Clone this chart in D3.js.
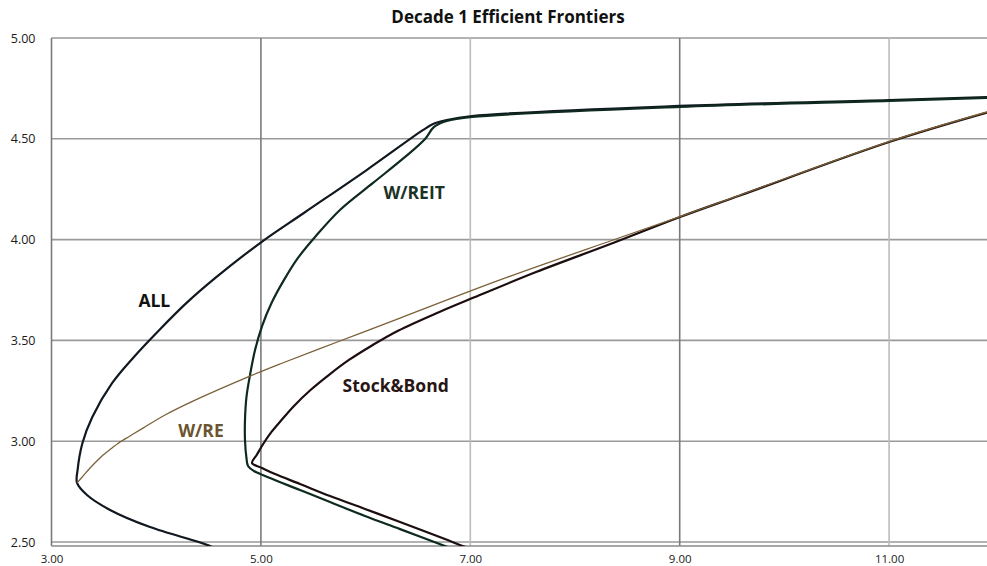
<!DOCTYPE html>
<html>
<head>
<meta charset="utf-8">
<script src="https://cdn.jsdelivr.net/npm/d3@7"></script>
<style>
  html, body { margin: 0; padding: 0; background: #fff; }
</style>
</head>
<body>
<div id="frontier_chart"></div>
<script>
// tick values
const xTicks = [3, 5, 7, 9, 11];
const yTicks = [2.5, 3.0, 3.5, 4.0, 4.5, 5.0];

// [risk, return] pairs
const allPoints = [
    [4.60, 2.455], [4.514, 2.48], [3.941, 2.574], [3.559, 2.659], [3.339, 2.733], [3.244, 2.793],
    [3.249, 2.857], [3.295, 2.99], [3.39, 3.12], [3.58, 3.289], [3.787, 3.418],
    [4.03, 3.552], [4.29, 3.686], [4.565, 3.81], [5.005, 3.988], [5.41, 4.132],
    [6.01, 4.345], [6.55, 4.544], [6.644, 4.573], [6.775, 4.593], [7.016, 4.613],
    [9.0, 4.663], [11.0, 4.692], [11.94, 4.707]
];
const wreitPoints = [
    [6.949, 2.445], [6.758, 2.48], [6.329, 2.564], [5.994, 2.629], [5.66, 2.698], [5.373, 2.758],
    [5.087, 2.817], [4.934, 2.852], [4.877, 2.877], [4.862, 2.917], [4.848, 3.006],
    [4.848, 3.105], [4.862, 3.219], [4.896, 3.328], [4.944, 3.452], [5.011, 3.571],
    [5.106, 3.69], [5.221, 3.80], [5.354, 3.909], [5.517, 4.013], [5.755, 4.147],
    [6.071, 4.281], [6.377, 4.41], [6.568, 4.499], [6.654, 4.559], [6.775, 4.588],
    [7.016, 4.608], [9.0, 4.658], [11.0, 4.688], [11.94, 4.703]
];
const stockBondPoints = [
    [7.045, 2.46], [6.901, 2.485], [6.758, 2.515], [6.329, 2.599], [5.994, 2.664], [5.66, 2.728],
    [5.373, 2.788], [5.135, 2.837], [5.011, 2.867], [4.915, 2.892], [4.958, 2.93],
    [5.02, 2.985], [5.101, 3.046], [5.197, 3.105], [5.316, 3.175], [5.474, 3.254],
    [5.66, 3.333], [5.841, 3.403], [6.061, 3.475], [6.31, 3.548], [6.7, 3.64],
    [7.045, 3.715], [7.628, 3.839], [8.363, 3.983], [9.003, 4.112], [9.576, 4.219],
    [11.0, 4.484], [11.935, 4.63]
];
const wrePoints = [
    [3.244, 2.793], [3.301, 2.827], [3.377, 2.872], [3.473, 2.922], [3.578, 2.966],
    [3.635, 2.989], [3.75, 3.026], [3.874, 3.065], [4.084, 3.13], [4.351, 3.199],
    [4.896, 3.323], [5.182, 3.383], [5.755, 3.497], [6.329, 3.611], [7.284, 3.80],
    [8.363, 3.998], [9.004, 4.114], [9.576, 4.221], [11.0, 4.486], [11.935, 4.633]
];

const seriesNames = ["ALL", "W/REIT", "Stock&Bond", "W/RE"];
const seriesData = [allPoints, wreitPoints, stockBondPoints, wrePoints];
const seriesColors = ["#111820", "#0e2a1e", "#1c0e0e", "#7b6039"];
const seriesWidths = [2.2, 2.2, 2.2, 1.3];
// label anchor points in data units
const labelPos = [[3.83, 3.665], [6.17, 4.20], [5.78, 3.245], [4.21, 3.02]];
const labelColors = ["#111111", "#1b3326", "#2a1515", "#6b5530"];

const margin = {top: 38, bottom: 24, left: 51.5, right: 0},
    width = 987 - margin.left - margin.right,
    height = 566 - margin.top - margin.bottom;

const svg = d3.select("#frontier_chart").append("svg")
    .attr("width", 987)
    .attr("height", 566)
    .style("display", "block");

const plot_g = svg.append("g")
    .attr("transform", `translate(${margin.left},${margin.top})`);

const x = d3.scaleLinear()
    .domain([3, 11.935])
    .range([0, width]);

const y = d3.scaleLinear()
    .domain([2.5, 5.0])
    .range([504, 0]);

// title
svg.append("text")
    .attr("x", 508)
    .attr("y", 23)
    .attr("text-anchor", "middle")
    .attr("font-family", "'Open Sans', sans-serif")
    .attr("font-size", "17px")
    .attr("font-weight", "bold")
    .attr("fill", "#111")
    .text("Decade 1 Efficient Frontiers");

// horizontal grid
plot_g.append("g")
    .selectAll("line")
    .data(yTicks)
    .join("line")
    .attr("x1", 0)
    .attr("x2", width)
    .attr("y1", d => y(d))
    .attr("y2", d => y(d))
    .attr("stroke", "#9a9a9a")
    .attr("stroke-width", 1.6);

// vertical grid, the scan shows 7 and 11 lighter
plot_g.append("g")
    .selectAll("line")
    .data(xTicks)
    .join("line")
    .attr("x1", d => x(d))
    .attr("x2", d => x(d))
    .attr("y1", 0)
    .attr("y2", y(2.5) + 4)
    .attr("stroke", (d, i) => (i % 2 === 0 && i > 0) ? "#bcbcbc" : "#7a7a7a")
    .attr("stroke-width", 1.6);

// bottom axis line (doubled in the scan)
plot_g.append("line")
    .attr("x1", 0)
    .attr("x2", width)
    .attr("y1", y(2.5) + 4)
    .attr("y2", y(2.5) + 4)
    .attr("stroke", "#8a8a8a")
    .attr("stroke-width", 1.4);

// y labels
const yAxis = plot_g.append("g")
    .call(d3.axisLeft(y).tickValues(yTicks).tickFormat(d3.format(".2f")).tickSize(0).tickPadding(16));
yAxis.select(".domain").remove();
yAxis.selectAll("text")
    .attr("font-family", "'Open Sans', sans-serif")
    .attr("font-size", "12.5px")
    .attr("fill", "#1a1a1a");

// x labels
const xAxis = plot_g.append("g")
    .attr("transform", `translate(0,${y(2.5) + 4})`)
    .call(d3.axisBottom(x).tickValues(xTicks).tickFormat(d3.format(".2f")).tickSize(0).tickPadding(9));
xAxis.select(".domain").remove();
xAxis.selectAll("text")
    .attr("font-family", "'Open Sans', sans-serif")
    .attr("font-size", "11.5px")
    .attr("fill", "#1a1a1a");

// clip the frontiers to the plot area
svg.append("defs").append("clipPath")
    .attr("id", "plot_clip")
    .append("rect")
    .attr("x", 0)
    .attr("y", 0)
    .attr("width", width)
    .attr("height", y(2.5) + 4);

const line = d3.line()
    .x(d => x(d[0]))
    .y(d => y(d[1]))
    .curve(d3.curveCatmullRom.alpha(0.5));

const lines_g = plot_g.append("g").attr("clip-path", "url(#plot_clip)");

seriesData.forEach((pts, i) => {
    lines_g.append("path")
        .datum(pts)
        .attr("fill", "none")
        .attr("stroke", seriesColors[i])
        .attr("stroke-width", seriesWidths[i])
        .attr("stroke-linejoin", "round")
        .attr("d", line);
});

// series labels
plot_g.append("g")
    .selectAll("text")
    .data(seriesNames)
    .join("text")
    .attr("x", (d, i) => x(labelPos[i][0]))
    .attr("y", (d, i) => y(labelPos[i][1]))
    .attr("font-family", "'Open Sans', sans-serif")
    .attr("font-size", "17.5px")
    .attr("font-weight", "bold")
    .attr("fill", (d, i) => labelColors[i])
    .text(d => d);
</script>
</body>
</html>
